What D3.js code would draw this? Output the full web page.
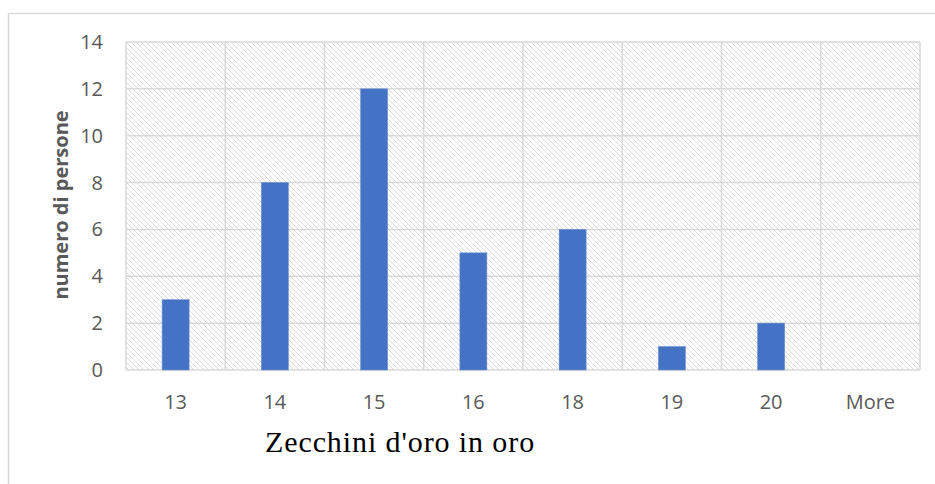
<!DOCTYPE html>
<html>
<head>
<meta charset="utf-8">
<script src="https://cdn.jsdelivr.net/npm/d3@7"></script>
<style>
  body { margin: 0; background: #fff; }
  svg { display: block; }
</style>
</head>
<body>
<script>
// histogram data
var categories = ["13", "14", "15", "16", "18", "19", "20", "More"];
var counts = [3, 8, 12, 5, 6, 1, 2, 0];
var yTicks = [0, 2, 4, 6, 8, 10, 12, 14];

var W = 935, H = 484;
var margin = {top: 42, right: 15, bottom: 114, left: 126};
var width = W - margin.left - margin.right;
var height = H - margin.top - margin.bottom;

var svg = d3.select("body").append("svg")
    .attr("width", W)
    .attr("height", H);

var defs = svg.append("defs");
var pat = defs.append("pattern")
    .attr("id", "hatch")
    .attr("patternUnits", "userSpaceOnUse")
    .attr("width", 5)
    .attr("height", 5);
pat.append("rect").attr("width", 5).attr("height", 5).attr("fill", "#fff");
pat.append("path")
    .attr("d", "M-1,-1 L6,6 M-1,4 L1,6 M4,-1 L6,1")
    .attr("stroke", "#dcdcdc")
    .attr("stroke-width", 1);

// outer chart frame (cut off at the right and bottom)
svg.append("rect")
    .attr("x", 8.5).attr("y", 13.5)
    .attr("width", 960).attr("height", 500)
    .attr("fill", "none")
    .attr("stroke", "#d9d9d9")
    .attr("stroke-width", 1.5);

var g = svg.append("g")
    .attr("transform", "translate(" + margin.left + "," + margin.top + ")");

var x = d3.scaleBand().domain(categories).range([0, width]).paddingInner(0).paddingOuter(0);
var y = d3.scaleLinear().domain([0, 14]).range([height, 0]);

g.append("rect")
    .attr("width", width).attr("height", height)
    .attr("fill", "url(#hatch)");

// horizontal grid
g.selectAll(".hgrid").data(yTicks).enter().append("line")
    .attr("x1", 0).attr("x2", width)
    .attr("y1", function(d) { return y(d); })
    .attr("y2", function(d) { return y(d); })
    .attr("stroke", "#d9d9d9").attr("stroke-width", 1.5);

// vertical grid at band edges
var edges = categories.map(function(c) { return x(c); }).concat([width]);
g.selectAll(".vgrid").data(edges).enter().append("line")
    .attr("x1", function(d) { return d; }).attr("x2", function(d) { return d; })
    .attr("y1", 0).attr("y2", height)
    .attr("stroke", "#d9d9d9").attr("stroke-width", 1.5);

var barW = 27;
g.selectAll(".bar").data(counts).enter().append("rect")
    .attr("x", function(d, i) { return x(categories[i]) + x.bandwidth() / 2 - barW / 2; })
    .attr("y", function(d) { return y(d); })
    .attr("width", barW)
    .attr("height", function(d) { return height - y(d); })
    .attr("fill", "#4472c4")
    .attr("stroke", "#6d8fd0")
    .attr("stroke-width", 0.6);

// y tick labels
g.selectAll(".ylab").data(yTicks).enter().append("text")
    .attr("x", -23)
    .attr("y", function(d) { return y(d); })
    .attr("dy", "0.35em")
    .attr("text-anchor", "end")
    .attr("font-family", "'Open Sans', sans-serif")
    .attr("font-size", 20)
    .attr("fill", "#595959")
    .text(function(d) { return d; });

// x tick labels
g.selectAll(".xlab").data(categories).enter().append("text")
    .attr("x", function(d) { return x(d) + x.bandwidth() / 2; })
    .attr("y", height + 39)
    .attr("text-anchor", "middle")
    .attr("font-family", "'Open Sans', sans-serif")
    .attr("font-size", 20)
    .attr("fill", "#595959")
    .text(function(d) { return d; });

// axis titles
svg.append("text")
    .attr("transform", "translate(68,205) rotate(-90)")
    .attr("text-anchor", "middle")
    .attr("font-family", "'Open Sans', sans-serif")
    .attr("font-weight", "bold")
    .attr("font-size", 20)
    .attr("fill", "#595959")
    .text("numero di persone");

svg.append("text")
    .attr("x", 265)
    .attr("y", 452)
    .attr("font-family", "'Liberation Serif', serif")
    .attr("font-size", 30)
    .attr("letter-spacing", 0.9)
    .attr("fill", "#000")
    .text("Zecchini d'oro in oro");
</script>
</body>
</html>
